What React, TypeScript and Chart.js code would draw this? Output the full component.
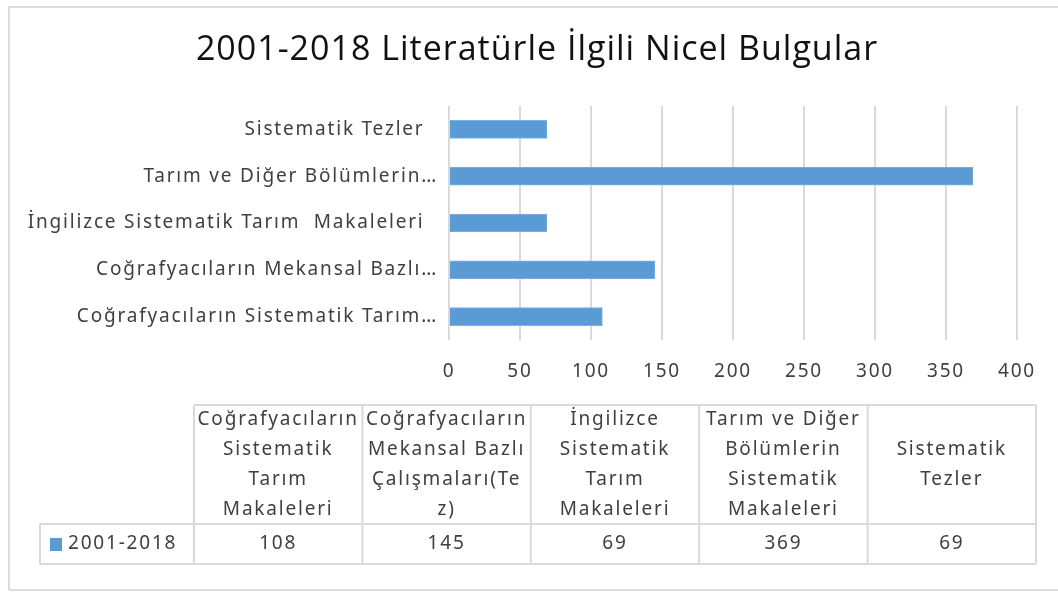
import React, { useEffect, useRef } from "react";
import { Chart, registerables } from "chart.js";

Chart.register(...registerables);

const chartTitle = "2001-2018 Literatürle İlgili Nicel Bulgular";
const seriesName = "2001-2018";
const categories = [
  "Coğrafyacıların Sistematik Tarım Makaleleri",
  "Coğrafyacıların Mekansal Bazlı Çalışmaları(Tez)",
  "İngilizce Sistematik Tarım Makaleleri",
  "Tarım ve Diğer Bölümlerin Sistematik Makaleleri",
  "Sistematik Tezler",
];
const axisLabels = [
  "Coğrafyacıların Sistematik Tarım…",
  "Coğrafyacıların Mekansal Bazlı…",
  "İngilizce Sistematik Tarım  Makaleleri  ",
  "Tarım ve Diğer Bölümlerin…",
  "Sistematik Tezler  ",
];
const headerLines = [
  ["Coğrafyacıların", "Sistematik", "Tarım", "Makaleleri"],
  ["Coğrafyacıların", "Mekansal Bazlı", "Çalışmaları(Te", "z)"],
  ["İngilizce", "Sistematik", "Tarım", "Makaleleri"],
  ["Tarım ve Diğer", "Bölümlerin", "Sistematik", "Makaleleri"],
  ["Sistematik", "Tezler"],
];
const values = [108, 145, 69, 369, 69];
const xTicks = [0, 50, 100, 150, 200, 250, 300, 350, 400];

const BAR_COLOR = "#5b9bd5";
const GRID = "#d9d9d9";
const TEXT = "#404040";
const FONT = "'Noto Sans', sans-serif";
const SPACING = "1.8px";

const framePlugin = {
  id: "frame",
  beforeDraw(chart: any) {
    const ctx = chart.ctx;
    ctx.save();
    ctx.fillStyle = "#ffffff";
    ctx.fillRect(0, 0, chart.width, chart.height);
    ctx.strokeStyle = "#dcdcdc";
    ctx.lineWidth = 2;
    ctx.beginPath();
    ctx.moveTo(9, chart.height - 2);
    ctx.lineTo(9, 7);
    ctx.lineTo(chart.width + 2, 7);
    ctx.stroke();
    ctx.beginPath();
    ctx.moveTo(9, chart.height - 2);
    ctx.lineTo(chart.width + 2, chart.height - 2);
    ctx.stroke();
    (ctx as any).letterSpacing = "1px";
    ctx.fillStyle = "#111111";
    ctx.font = `34px 'Open Sans', sans-serif`;
    ctx.textAlign = "center";
    ctx.textBaseline = "middle";
    ctx.fillText(chartTitle, 537, 50);
    ctx.restore();
    (ctx as any).letterSpacing = SPACING;
  },
  afterDraw(chart: any) {
    (chart.ctx as any).letterSpacing = "0px";
  },
};

const tablePlugin = {
  id: "dataTable",
  afterDraw(chart: any) {
    const ctx = chart.ctx;
    const left = 40;
    const colStart = 194;
    const right = 1036;
    const top = 405;
    const mid = 524;
    const bottom = 564;
    const n = categories.length;
    const colW = (right - colStart) / n;
    ctx.save();
    (ctx as any).letterSpacing = SPACING;
    ctx.strokeStyle = GRID;
    ctx.lineWidth = 2;
    ctx.beginPath();
    ctx.moveTo(colStart, top);
    ctx.lineTo(right, top);
    ctx.moveTo(left, mid);
    ctx.lineTo(right, mid);
    ctx.moveTo(left, bottom);
    ctx.lineTo(right, bottom);
    ctx.moveTo(left, mid);
    ctx.lineTo(left, bottom);
    for (let i = 0; i <= n; i++) {
      const x = colStart + i * colW;
      ctx.moveTo(x, top);
      ctx.lineTo(x, bottom);
    }
    ctx.stroke();

    ctx.fillStyle = TEXT;
    ctx.font = `19px ${FONT}`;
    ctx.textAlign = "center";
    ctx.textBaseline = "middle";
    const lh = 30;
    headerLines.forEach((lines, i) => {
      const cx = colStart + (i + 0.5) * colW;
      const cy = (top + mid) / 2;
      const startY = cy - ((lines.length - 1) * lh) / 2;
      lines.forEach((t, j) => ctx.fillText(t, cx, startY + j * lh));
    });
    const rowY = (mid + bottom) / 2;
    values.forEach((v, i) => {
      ctx.fillText(String(v), colStart + (i + 0.5) * colW, rowY);
    });
    ctx.fillStyle = BAR_COLOR;
    ctx.fillRect(50, rowY - 6, 12, 13);
    ctx.fillStyle = TEXT;
    ctx.textAlign = "left";
    ctx.fillText(seriesName, 68, rowY);
    ctx.restore();
  },
};

export default function App() {
  const ref = useRef<HTMLCanvasElement>(null);
  useEffect(() => {
    if (!ref.current) return;
    const chart = new Chart(ref.current, {
      type: "bar",
      data: {
        labels: categories,
        datasets: [
          {
            label: seriesName,
            data: values,
            backgroundColor: BAR_COLOR,
            borderColor: "#7fb2e0",
            borderWidth: 1,
            barThickness: 18,
          },
        ],
      },
      options: {
        indexAxis: "y",
        animation: false,
        responsive: false,
        layout: { padding: { left: 28, right: 41, top: 106, bottom: 212 } },
        plugins: {
          legend: { display: false },
          tooltip: { enabled: false },
          title: { display: false },
        },
        scales: {
          x: {
            min: 0,
            max: 400,
            afterBuildTicks(scale: any) {
              scale.ticks = xTicks.map((v) => ({ value: v }));
            },
            afterFit(scale: any) {
              scale.height = 40;
            },
            grid: { color: GRID, lineWidth: 2, drawTicks: false },
            border: { display: false },
            ticks: {
              autoSkip: false,
              maxRotation: 0,
              minRotation: 0,
              color: TEXT,
              padding: 20,
              font: { family: FONT, size: 19 },
            },
          },
          y: {
            reverse: true,
            afterFit(scale: any) {
              scale.width = 421;
            },
            grid: { display: false },
            border: { display: false },
            ticks: {
              autoSkip: false,
              color: TEXT,
              padding: 3,
              font: { family: FONT, size: 19 },
              callback: (_v: any, i: number) => axisLabels[i],
            },
          },
        },
      },
      plugins: [framePlugin, tablePlugin],
    });
    return () => chart.destroy();
  }, []);
  return (
    <div style={{ position: "fixed", left: 0, top: 0, width: 1058, height: 592 }}>
      <canvas ref={ref} width={1058} height={592} style={{ width: 1058, height: 592 }} />
    </div>
  );
}
